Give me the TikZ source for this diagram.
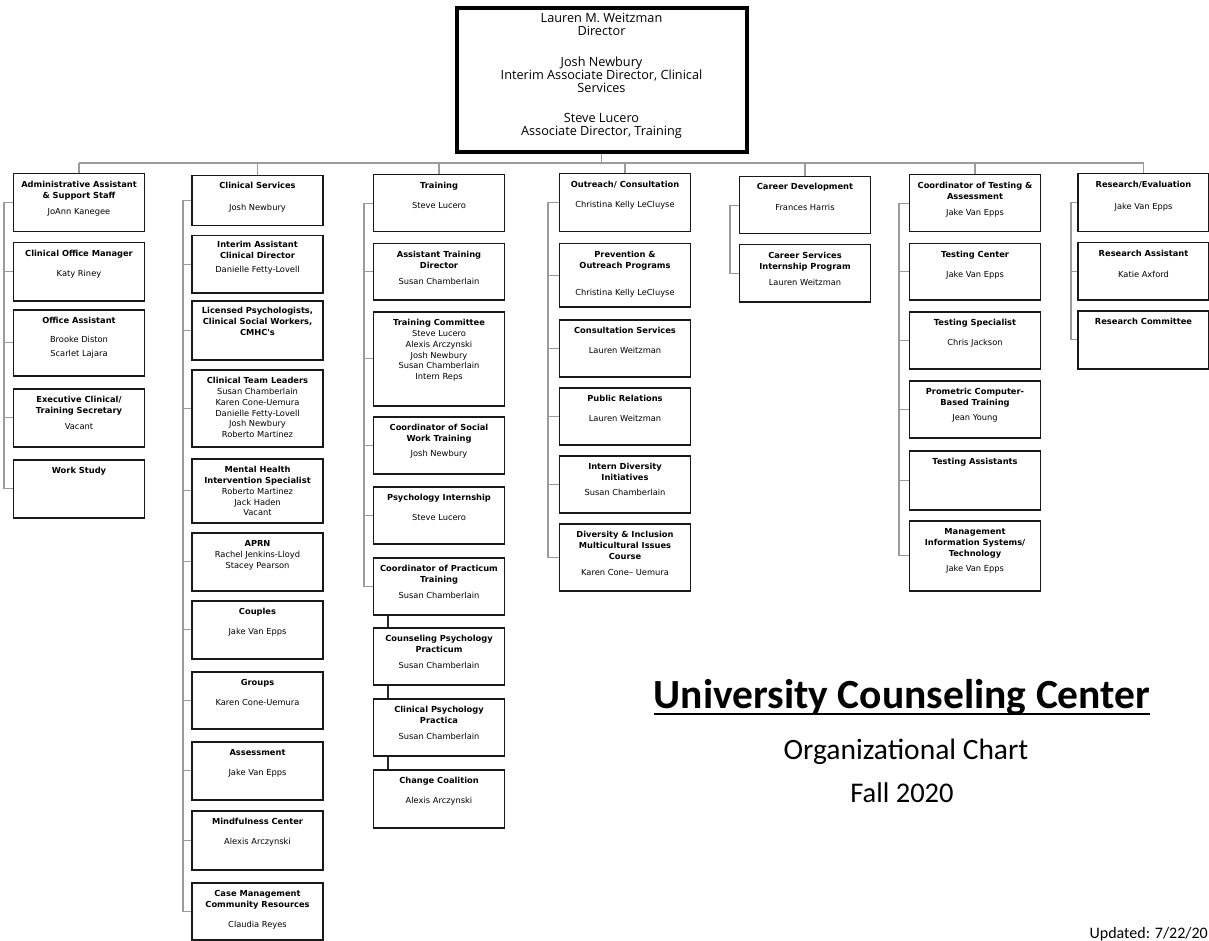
\documentclass[tikz,border=0pt]{standalone}
\usepackage{fontspec}
\setmainfont{Carlito}
\newfontfamily\boxfont{DejaVu Sans}
\newfontfamily\headfont{Open Sans}
\usetikzlibrary{calc}

\definecolor{linkgray}{RGB}{155,155,155}

\newcommand{\orgtext}[3][14pt]{\parbox[c][#2][t]{131pt}{\centering\rule{0pt}{#1}#3}}
\newcommand{\hd}[1]{{\bfseries #1}}

\tikzset{
  unit/.style={draw=black!90, line width=1.5pt, anchor=north, inner sep=0pt,
    font=\boxfont\fontsize{8.3}{10.8}\selectfont},
  topbox/.style={draw=black, line width=4pt, anchor=north, inner sep=0pt,
    font=\headfont\fontsize{12.7}{13}\selectfont},
  link/.style={draw=linkgray, line width=1.4pt},
  chain/.style={draw=black!85, line width=1.5pt},
}

\begin{document}
\begin{tikzpicture}[x=1pt, y=-1pt]
  \useasboundingbox (0,0) rectangle (1209,941);

  \node[topbox] at (601.5,6) (director) {\parbox[c][144pt][t]{290pt}{\centering\rule{0pt}{15pt}Lauren M. Weitzman\\ Director\\[18pt] Josh Newbury\\ Interim Associate Director, Clinical\\ Services\\[17pt] Steve Lucero\\ Associate Director, Training}};

  % administration
  \node[unit] at (79,173) (admin) {\orgtext{58pt}{\hd{Administrative Assistant\\ \& Support Staff}\\[5pt] JoAnn Kanegee}};
  \node[unit] at (79,242) (com) {\orgtext{58pt}{\hd{Clinical Office Manager}\\[9pt] Katy Riney}};
  \node[unit] at (79,309) (offasst) {\orgtext{66pt}{\hd{Office Assistant}\\[8pt] Brooke Diston\\[3pt] Scarlet Lajara}};
  \node[unit] at (79,388) (exec) {\orgtext{58pt}{\hd{Executive Clinical/\\ Training Secretary}\\[5pt] Vacant}};
  \node[unit] at (79,459) (workstudy) {\orgtext{58pt}{\hd{Work Study}}};

  % clinical services
  \node[unit] at (257.5,175) (clinsvc) {\orgtext[13pt]{50pt}{\hd{Clinical Services}\\[11pt] Josh Newbury}};
  \node[unit] at (257.5,235) (iacd) {\orgtext[12pt]{57pt}{\hd{Interim Assistant\\ Clinical Director}\\[3pt] Danielle Fetty-Lovell}};
  \node[unit] at (257.5,300) (licpsy) {\orgtext[13pt]{59pt}{\hd{Licensed Psychologists,\\ Clinical Social Workers,\\ CMHC's}}};
  \node[unit] at (257.5,369) (ctl) {\orgtext{77pt}{\hd{Clinical Team Leaders}\\ Susan Chamberlain\\ Karen Cone-Uemura\\ Danielle Fetty-Lovell\\ Josh Newbury\\ Roberto Martinez}};
  \node[unit] at (257.5,458) (mhis) {\orgtext{64pt}{\hd{Mental Health\\ Intervention Specialist}\\ Roberto Martinez\\ Jack Haden\\ Vacant}};
  \node[unit] at (257.5,532) (aprn) {\orgtext{58pt}{\hd{APRN}\\ Rachel Jenkins-Lloyd\\ Stacey Pearson}};
  \node[unit] at (257.5,600) (couples) {\orgtext{58pt}{\hd{Couples}\\[9pt] Jake Van Epps}};
  \node[unit] at (257.5,671) (groups) {\orgtext{57pt}{\hd{Groups}\\[9pt] Karen Cone-Uemura}};
  \node[unit] at (257.5,741) (assess) {\orgtext{58pt}{\hd{Assessment}\\[9pt] Jake Van Epps}};
  \node[unit] at (257.5,810) (mindful) {\orgtext{59pt}{\hd{Mindfulness Center}\\[9pt] Alexis Arczynski}};
  \node[unit] at (257.5,882) (casemgmt) {\orgtext{57pt}{\hd{Case Management\\ Community Resources}\\[9pt] Claudia Reyes}};

  % training
  \node[unit] at (439,174) (training) {\orgtext{57pt}{\hd{Training}\\[9pt] Steve Lucero}};
  \node[unit] at (439,243) (atd) {\orgtext{56pt}{\hd{Assistant Training\\ Director}\\[5pt] Susan Chamberlain}};
  \node[unit] at (439,311) (tcomm) {\orgtext{94pt}{\hd{Training Committee}\\ Steve Lucero\\ Alexis Arczynski\\ Josh Newbury\\ Susan Chamberlain\\ Intern Reps}};
  \node[unit] at (439,416) (cswt) {\orgtext{57pt}{\hd{Coordinator of Social\\ Work Training}\\[4pt] Josh Newbury}};
  \node[unit] at (439,486) (psyint) {\orgtext{57pt}{\hd{Psychology Internship}\\[9pt] Steve Lucero}};
  \node[unit] at (439,557) (cpt) {\orgtext{57pt}{\hd{Coordinator of Practicum\\ Training}\\[5pt] Susan Chamberlain}};
  \node[unit] at (439,627) (cpp) {\orgtext{57pt}{\hd{Counseling Psychology\\ Practicum}\\[5pt] Susan Chamberlain}};
  \node[unit] at (439,698) (clpp) {\orgtext{57pt}{\hd{Clinical Psychology\\ Practica}\\[5pt] Susan Chamberlain}};
  \node[unit] at (439,769) (change) {\orgtext{58pt}{\hd{Change Coalition}\\[9pt] Alexis Arczynski}};

  % outreach
  \node[unit] at (625,173) (outreach) {\orgtext{58pt}{\hd{Outreach/ Consultation}\\[9pt] Christina Kelly LeCluyse}};
  \node[unit] at (625,243) (prev) {\orgtext{63pt}{\hd{Prevention \&\\ Outreach Programs}\\[16pt] Christina Kelly LeCluyse}};
  \node[unit] at (625,319) (consult) {\orgtext{57pt}{\hd{Consultation Services}\\[9pt] Lauren Weitzman}};
  \node[unit] at (625,387) (pr) {\orgtext{57pt}{\hd{Public Relations}\\[9pt] Lauren Weitzman}};
  \node[unit] at (625,455) (idi) {\orgtext{57pt}{\hd{Intern Diversity\\ Initiatives}\\[4pt] Susan Chamberlain}};
  \node[unit] at (625,523) (dandi) {\orgtext{67pt}{\hd{Diversity \& Inclusion\\ Multicultural Issues\\ Course}\\[5pt] Karen Cone– Uemura}};

  % career
  \node[unit] at (805,176) (career) {\orgtext[13pt]{57pt}{\hd{Career Development}\\[10pt] Frances Harris}};
  \node[unit] at (805,244) (csip) {\orgtext{57pt}{\hd{Career Services\\ Internship Program}\\[5pt] Lauren Weitzman}};

  % testing
  \node[unit] at (975,174) (cta) {\orgtext{57pt}{\hd{Coordinator of Testing \&\\ Assessment}\\[5pt] Jake Van Epps}};
  \node[unit] at (975,243) (tcenter) {\orgtext{56pt}{\hd{Testing Center}\\[9pt] Jake Van Epps}};
  \node[unit] at (975,311) (tspec) {\orgtext{57pt}{\hd{Testing Specialist}\\[9pt] Chris Jackson}};
  \node[unit] at (975,380) (prometric) {\orgtext{57pt}{\hd{Prometric Computer-\\ Based Training}\\[4pt] Jean Young}};
  \node[unit] at (975,450) (tasst) {\orgtext{59pt}{\hd{Testing Assistants}}};
  \node[unit] at (975,520) (mis) {\orgtext{70pt}{\hd{Management\\ Information Systems/\\ Technology}\\[4pt] Jake Van Epps}};

  % research
  \node[unit] at (1143.5,173) (research) {\orgtext{58pt}{\hd{Research/Evaluation}\\[11pt] Jake Van Epps}};
  \node[unit] at (1143.5,242) (rasst) {\orgtext{57pt}{\hd{Research Assistant}\\[10pt] Katie Axford}};
  \node[unit] at (1143.5,310) (rcomm) {\orgtext{58pt}{\hd{Research Committee}}};

  % bus from the director
  \coordinate (bus) at (0,163);
  \draw[link] (director.south) -- (director.south |- bus);
  \draw[link] (admin.north |- bus) -- (research.north |- bus);
  \foreach \h in {admin,clinsvc,training,outreach,career,cta,research}
    \draw[link] (\h.north |- bus) -- (\h.north);

  % spines
  \coordinate (s1) at (4,0);
  \draw[link] (admin.west) -- (admin.west -| s1) -- (workstudy.west -| s1) -- (workstudy.west);
  \foreach \n in {com,offasst,exec}
    \draw[link] (\n.west) -- (\n.west -| s1);

  \coordinate (s2) at (183,0);
  \draw[link] (clinsvc.west) -- (clinsvc.west -| s2) -- (casemgmt.west -| s2) -- (casemgmt.west);
  \foreach \n in {iacd,licpsy,ctl,mhis,aprn,couples,groups,assess,mindful}
    \draw[link] (\n.west) -- (\n.west -| s2);

  \coordinate (s3) at (364,0);
  \draw[link] (training.west) -- (training.west -| s3) -- (cpt.west -| s3) -- (cpt.west);
  \foreach \n in {atd,tcomm,cswt,psyint}
    \draw[link] (\n.west) -- (\n.west -| s3);

  \coordinate (s4) at (548,0);
  \draw[link] (outreach.west) -- (outreach.west -| s4) -- (dandi.west -| s4) -- (dandi.west);
  \foreach \n in {prev,consult,pr,idi}
    \draw[link] (\n.west) -- (\n.west -| s4);

  \coordinate (s5) at (730,0);
  \draw[link] (career.west) -- (career.west -| s5) -- (csip.west -| s5) -- (csip.west);

  \coordinate (s6) at (899,0);
  \draw[link] (cta.west) -- (cta.west -| s6) -- (mis.west -| s6) -- (mis.west);
  \foreach \n in {tcenter,tspec,prometric,tasst}
    \draw[link] (\n.west) -- (\n.west -| s6);

  \coordinate (s7) at (1071,0);
  \draw[link] (research.west) -- (research.west -| s7) -- (rcomm.west -| s7) -- (rcomm.west);
  \draw[link] (rasst.west) -- (rasst.west -| s7);

  % practicum chain
  \coordinate (pc) at (388,0);
  \draw[chain] (cpt.south -| pc) -- (cpp.north -| pc);
  \draw[chain] (cpp.south -| pc) -- (clpp.north -| pc);
  \draw[chain] (clpp.south -| pc) -- (change.north -| pc);

  % titles
  \node[inner sep=0pt, anchor=base, font=\fontsize{41.5}{48}\selectfont\bfseries] at (902,708) (title) {University Counseling Center};
  \draw[line width=1.8pt] ([yshift=-6pt]title.base west) -- ([yshift=-6pt]title.base east);
  \node[inner sep=0pt, anchor=base, font=\fontsize{29.5}{34}\selectfont] at (906,759) (subtitle) {Organizational Chart};
  \node[inner sep=0pt, anchor=base, font=\fontsize{28.5}{32}\selectfont] at (902,802) (term) {Fall 2020};
  \node[inner sep=0pt, anchor=base east, font=\fontsize{16}{18}\selectfont] at (1208,938.5) (updated) {Updated: 7/22/20};
\end{tikzpicture}
\end{document}
